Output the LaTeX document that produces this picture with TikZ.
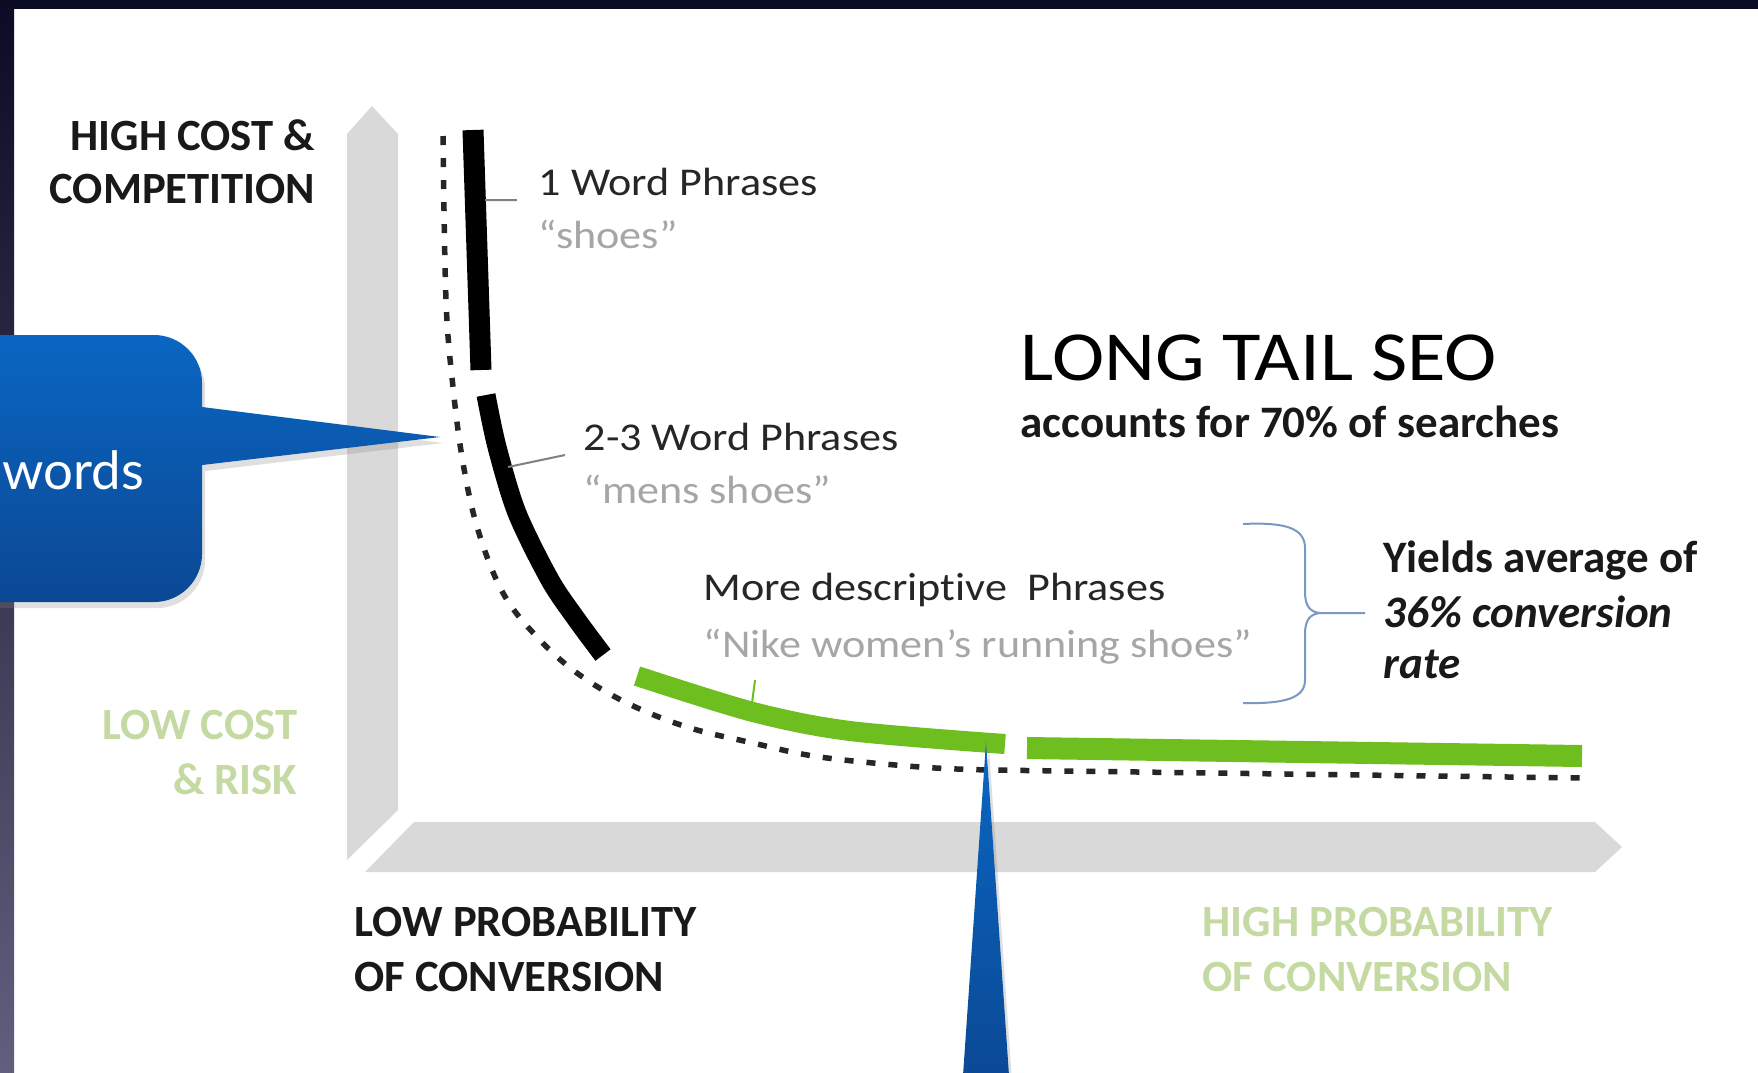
\documentclass[tikz,border=0pt]{standalone}
\usepackage{fontspec}
\setmainfont{Carlito}
\newfontfamily\widefont{Carlito}[FakeStretch=1.12,Ligatures=NoCommon]
\newfontfamily\keyfont{Lato}
\usetikzlibrary{positioning,shadows}

\definecolor{axisgray}{HTML}{D9D9D9}
\definecolor{tailgreen}{HTML}{6DBE1E}
\definecolor{palegreen}{HTML}{C4DAA2}
\definecolor{quotegray}{HTML}{A6A6A6}
\definecolor{navy}{HTML}{0B0B26}
\definecolor{slate}{HTML}{60607E}
\definecolor{calltop}{HTML}{0A66C2}
\definecolor{callbot}{HTML}{0B4894}
\definecolor{bracecol}{HTML}{7B97C3}

\begin{document}
\begin{tikzpicture}[x=0.01cm,y=-0.01cm,
  axislbl/.style={inner sep=0pt,font=\fontsize{12.7}{15.4}\selectfont\bfseries,text=black!90},
  greenlbl/.style={axislbl,text=palegreen},
  phrase/.style={inner sep=0pt,font=\widefont\fontsize{11.2}{15.1}\selectfont,text=black!85},
  quote/.style={phrase,text=quotegray},
  yieldlbl/.style={inner sep=0pt,font=\fontsize{12.8}{15.1}\selectfont\bfseries,text=black!90},
  yieldit/.style={yieldlbl,font=\fontsize{12.8}{15.1}\selectfont\bfseries\itshape},
  seg/.style={line width=0.2cm},
  dotline/.style={black!85,line width=0.055cm,dash pattern=on 0.09cm off 0.13cm},
  tick/.style={gray,line width=0.02cm},
  axisbar/.style={fill=axisgray},
  callout/.style={top color=calltop,bottom color=callbot,drop shadow={opacity=.25,shadow xshift=.3mm,shadow yshift=-.6mm}}
]
\useasboundingbox (0,0) rectangle (1758,1072);
\fill[white] (0,0) rectangle (1758,1072);
% Slide frame
\fill[navy] (0,0) rectangle (1758,9);
\shade[top color=navy,bottom color=slate] (0,0) rectangle (14,1072);

% Axes
\fill[axisbar] (347,860) -- (347,134) -- (372,106) -- (398,134) -- (398,810) -- cycle;
\fill[axisbar] (365,872) -- (414,822) -- (1595,822) -- (1622,847) -- (1595,872) -- cycle;

% Axis labels
\node[axislbl,anchor=base east] (highcost) at (316,150) {HIGH COST \&};
\node[axislbl,below=0.53cm of highcost.base east,anchor=base east] (competition) {COMPETITION};
\node[greenlbl,anchor=base east] (lowcost) at (298,739) {LOW COST};
\node[greenlbl,below=0.55cm of lowcost.base east,anchor=base east] (risk) {\& RISK};
\node[axislbl,anchor=base west] (lowprob) at (354,936) {LOW PROBABILITY};
\node[axislbl,below=0.55cm of lowprob.base west,anchor=base west] (lowconv) {OF CONVERSION};
\node[greenlbl,anchor=base west] (highprob) at (1202,936) {HIGH PROBABILITY};
\node[greenlbl,below=0.55cm of highprob.base west,anchor=base west] (highconv) {OF CONVERSION};

% Tail curve
\draw[dotline] plot[smooth,tension=0.6] coordinates {(443,136) (446,300) (453,387) (463,463) (478,530) (503,593) (537,637) (577,673) (627,703) (687,727) (753,743) (820,757) (920,767) (990,770)} -- (1583,778);
\draw[seg,line width=0.21cm] (473,130) -- (481,370);
\draw[seg,line width=0.19cm] plot[smooth] coordinates {(486,395) (497,447) (517,513) (550,580) (577,620) (603,655)};
\draw[seg,tailgreen] plot[smooth] coordinates {(637,676) (753,712) (850,731) (1005,744)};
\draw[seg,tailgreen,line width=0.22cm] (1027,748) -- (1582,756);

% Phrase labels
\node[phrase,anchor=base west] (onew) at (538,195) {1 Word Phrases};
\node[quote,below=0.53cm of onew.base west,anchor=base west] (oneq) {“shoes”};
\node[phrase,anchor=base west] (twow) at (583,450) {2-3 Word Phrases};
\node[quote,below=0.53cm of twow.base west,anchor=base west] (twoq) {“mens shoes”};
\node[phrase,anchor=base west] (morew) at (703,600) {More descriptive\ \ Phrases};
\node[quote,below=0.57cm of morew.base west,anchor=base west] (moreq) {“Nike women’s running shoes”};

\coordinate (onetick) at (485,200);
\coordinate (twotick) at (508,467);
\coordinate (moretick) at (752,703);
\draw[tick] (onetick) -- ([xshift=-0.21cm,yshift=-0.05cm]onew.base west);
\draw[tick] (twotick) -- ([xshift=-0.18cm,yshift=-0.05cm]twow.base west);
\draw[tailgreen,line width=0.02cm] (moretick) -- ([xshift=0.52cm,yshift=-0.23cm]moreq.base west);

% Title
\node[inner sep=0pt,anchor=base west,font=\widefont\fontsize{20}{24}\selectfont,text=black] (tail) at (1020,380) {LONG TAIL SEO};
\node[yieldlbl,below=0.57cm of tail.base west,anchor=base west] (tailsub) {accounts for 70\% of searches};

% Brace and yield note
\node[yieldlbl,anchor=base west] (yields) at (1383,572) {Yields average of};
\node[yieldit,below=0.55cm of yields.base west,anchor=base west] (rate1) {36\% conversion};
\node[yieldit,below=0.51cm of rate1.base west,anchor=base west] (rate2) {rate};
\coordinate (bracetip) at (1320,613);
\draw[bracecol,line width=0.02cm] (1243,524) .. controls (1285,522) and (1305,528) .. (1305,548) -- (1305,592) .. controls (1305,606) and (1310,612) .. (bracetip)
  .. controls (1310,614) and (1305,620) .. (1305,634) -- (1305,680) .. controls (1305,698) and (1285,704) .. (1243,703);
\draw[bracecol,line width=0.02cm] (bracetip) -- ([xshift=-0.18cm,yshift=0.14cm]rate1.base west);

% Callouts
\path[callout] (-60,335) -- (154,335) arc[start angle=90,end angle=0,radius=0.48cm] -- (202,407) -- (440,437) -- (202,465) -- (202,554) arc[start angle=0,end angle=-90,radius=0.48cm] -- (-60,602) -- cycle;
\node[anchor=base west,inner sep=0pt,font=\keyfont\fontsize{15}{18}\selectfont,text=white] (kw) at (2,489) {words};
\path[callout] (962,1090) -- (986,742) -- (1010,1090) -- cycle;
\end{tikzpicture}
\end{document}
